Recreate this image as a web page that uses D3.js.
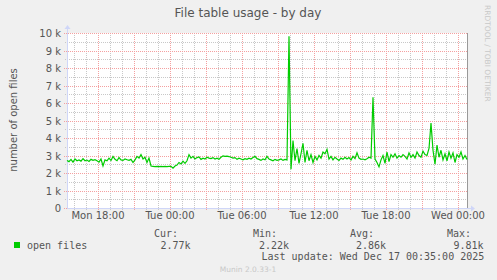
<!DOCTYPE html>
<html>
<head>
<meta charset="utf-8">
<script src="https://cdn.jsdelivr.net/npm/d3@7"></script>
<style>
body { margin: 0; background: #f0f0f0; }
svg { display: block; }
</style>
</head>
<body>
<svg id="chart"></svg>
<script>
// File table usage - by day (munin style)

// samples every 10 minutes, Mon 15:25 -> Wed 00:45
var startTime = Date.UTC(2025, 11, 15, 15, 25);
var stepMinutes = 10;
var openFiles = [
  2.72,2.65,2.78,2.62,2.80,2.70,2.75,2.68,2.82,2.70,
  2.74,2.66,2.78,2.72,2.76,2.70,2.62,2.80,2.40,2.75,
  2.70,2.85,2.72,2.95,2.78,2.70,2.88,2.75,2.72,2.80,
  2.76,2.72,2.78,2.60,2.75,2.95,2.85,3.05,2.80,2.90,
  2.60,2.85,2.40,2.38,2.36,2.38,2.37,2.38,2.36,2.38,
  2.37,2.38,2.38,2.28,2.40,2.45,2.60,2.52,2.68,2.55,
  2.70,3.05,2.85,2.95,2.80,2.88,2.92,2.78,2.85,2.80,
  2.90,2.85,2.82,2.88,2.80,2.85,2.78,2.90,2.98,2.95,
  2.96,2.94,2.90,2.85,2.88,2.78,2.85,2.80,2.75,2.82,
  2.78,2.85,2.80,2.88,2.95,2.82,2.78,2.72,2.80,2.76,
  2.95,2.80,2.75,2.70,2.78,2.72,2.75,2.80,2.72,2.78,
  2.75,9.81,2.22,3.85,2.70,3.40,2.55,3.10,3.70,2.60,
  3.30,2.70,3.05,2.60,2.95,2.75,3.00,2.85,3.20,3.10,
  3.35,2.80,2.95,2.75,2.90,2.80,2.72,2.85,2.78,2.90,
  2.80,2.88,2.75,2.95,2.82,3.15,2.85,2.78,2.80,2.75,
  2.82,2.90,2.85,6.33,2.80,2.60,2.35,2.75,3.00,2.55,
  3.20,2.65,3.05,2.90,3.10,2.85,3.00,2.90,3.05,2.95,
  2.80,3.15,2.90,3.05,2.85,3.20,3.00,2.90,3.25,3.05,
  3.00,3.40,4.85,3.30,2.50,3.60,2.90,3.30,2.75,3.10,
  2.70,3.20,2.85,3.15,2.60,3.05,2.90,3.20,2.80,3.00,
  2.77
];
var yTicks = [0, 1000, 2000, 3000, 4000, 5000, 6000, 7000, 8000, 9000, 10000];
var legendHeads = ["Cur:", "Min:", "Avg:", "Max:"];
var legendValues = ["2.77k", "2.22k", "2.86k", "9.81k"];

var W = 497, H = 280;
var plotL = 67, plotR = 467, plotT = 33, plotB = 208;
var green = "#00cc00";

var svg = d3.select("#chart").attr("width", W).attr("height", H);
svg.append("rect").attr("width", W).attr("height", H).attr("fill", "#f0f0f0");

var data = openFiles.map(function(v, i) {
  return { t: new Date(startTime + i * stepMinutes * 60000), v: v * 1000 };
});

var x = d3.scaleUtc()
  .domain([new Date(startTime), new Date(startTime + 200 * stepMinutes * 60000)])
  .range([plotL, plotR]);
var y = d3.scaleLinear().domain([0, 10000]).range([plotB, plotT]);

// canvas
svg.append("rect").attr("x", plotL).attr("y", plotT)
  .attr("width", plotR - plotL).attr("height", plotB - plotT).attr("fill", "#fff");

// grid
var minorX = x.ticks(d3.utcHour.every(1));
var majorX = x.ticks(d3.utcHour.every(3));
var labelX = x.ticks(d3.utcHour.every(6));
var grid = svg.append("g").attr("shape-rendering", "crispEdges");

grid.selectAll(".vmin").data(minorX).enter().append("line")
  .attr("x1", function(d){ return Math.round(x(d)) + 0.5; })
  .attr("x2", function(d){ return Math.round(x(d)) + 0.5; })
  .attr("y1", plotT).attr("y2", plotB + 2)
  .attr("stroke", "#c8c8c8").attr("stroke-dasharray", "1,1");

grid.selectAll(".hmin").data(d3.range(500, 10000, 1000)).enter().append("line")
  .attr("x1", plotL - 2).attr("x2", plotR)
  .attr("y1", function(d){ return Math.round(y(d)) + 0.5; })
  .attr("y2", function(d){ return Math.round(y(d)) + 0.5; })
  .attr("stroke", "#c8c8c8").attr("stroke-dasharray", "1,1");

grid.selectAll(".vmaj").data(majorX).enter().append("line")
  .attr("x1", function(d){ return Math.round(x(d)) + 0.5; })
  .attr("x2", function(d){ return Math.round(x(d)) + 0.5; })
  .attr("y1", plotT).attr("y2", plotB + 3)
  .attr("stroke", "#f4a0a0").attr("stroke-dasharray", "1,1");

grid.selectAll(".hmaj").data(yTicks).enter().append("line")
  .attr("x1", plotL - 3).attr("x2", plotR)
  .attr("y1", function(d){ return Math.round(y(d)) + 0.5; })
  .attr("y2", function(d){ return Math.round(y(d)) + 0.5; })
  .attr("stroke", "#f4a0a0").attr("stroke-dasharray", "1,1");

// right frame line
svg.append("line").attr("x1", plotR + 0.5).attr("x2", plotR + 0.5)
  .attr("y1", plotT).attr("y2", plotB)
  .attr("stroke", "#999").attr("shape-rendering", "crispEdges");

// axes with arrows
svg.append("line").attr("x1", plotL + 0.5).attr("x2", plotL + 0.5)
  .attr("y1", plotB + 1).attr("y2", plotT - 5)
  .attr("stroke", "#cfd6f8").attr("shape-rendering", "crispEdges");
svg.append("path").attr("d", "M" + (plotL - 2.5) + "," + (plotT - 4) + "L" + (plotL + 0.5) + "," + (plotT - 8) + "L" + (plotL + 3.5) + "," + (plotT - 4) + "Z")
  .attr("fill", "#cfd6f8");
svg.append("line").attr("x1", plotL).attr("x2", plotR + 4)
  .attr("y1", plotB + 0.5).attr("y2", plotB + 0.5)
  .attr("stroke", "#cfd6f8").attr("shape-rendering", "crispEdges");
svg.append("path").attr("d", "M" + (plotR + 4) + "," + (plotB - 2.5) + "L" + (plotR + 8) + "," + (plotB + 0.5) + "L" + (plotR + 4) + "," + (plotB + 3.5) + "Z")
  .attr("fill", "#cfd6f8");

// tick labels
var fmtTime = d3.utcFormat("%a %H:%M");
svg.append("g").selectAll("text").data(labelX).enter().append("text")
  .attr("x", function(d){ return x(d); }).attr("y", 219)
  .attr("text-anchor", "middle")
  .style("font-family", "DejaVu Sans").style("font-size", "10px").attr("fill", "#555")
  .text(function(d){ return fmtTime(d); });

svg.append("g").selectAll("text").data(yTicks).enter().append("text")
  .attr("x", 61).attr("y", function(d){ return y(d) + 4; })
  .attr("text-anchor", "end")
  .style("font-family", "DejaVu Sans").style("font-size", "10px").attr("fill", "#555")
  .text(function(d){ return d === 0 ? "0" : (d / 1000) + " k"; });

// the line
var line = d3.line().x(function(d){ return x(d.t); }).y(function(d){ return y(d.v); });
svg.append("path").datum(data).attr("d", line)
  .attr("fill", "none").attr("stroke", green).attr("stroke-width", 1.2);

// titles
svg.append("text").attr("x", 248).attr("y", 17).attr("text-anchor", "middle")
  .style("font-family", "DejaVu Sans").style("font-size", "12px").attr("fill", "#555")
  .text("File table usage - by day");

svg.append("text").attr("transform", "translate(17,120) rotate(-90)")
  .attr("text-anchor", "middle")
  .style("font-family", "DejaVu Sans").style("font-size", "10px").attr("fill", "#555")
  .text("number of open files");

svg.append("text").attr("transform", "translate(485,5) rotate(90)")
  .style("font-family", "DejaVu Sans").style("font-size", "7.5px").attr("fill", "#c8c8c8")
  .text("RRDTOOL / TOBI OETIKER");

// legend
svg.append("rect").attr("x", 14).attr("y", 242).attr("width", 6).attr("height", 6).attr("fill", green);
var mono = "DejaVu Sans Mono";
svg.append("text").attr("x", 27).attr("y", 248.5)
  .style("font-family", mono).style("font-size", "10px").attr("fill", "#555")
  .text("open files");

var headX = [154, 253, 350, 447];
var valX = [160.5, 259, 356, 453.5];
svg.append("g").selectAll("text").data(legendHeads).enter().append("text")
  .attr("x", function(d, i){ return headX[i]; }).attr("y", 237)
  .style("font-family", mono).style("font-size", "10px").attr("fill", "#555")
  .text(function(d){ return d; });
svg.append("g").selectAll("text").data(legendValues).enter().append("text")
  .attr("x", function(d, i){ return valX[i]; }).attr("y", 248.5)
  .style("font-family", mono).style("font-size", "10px").attr("fill", "#555")
  .text(function(d){ return d; });

svg.append("text").attr("x", 261.5).attr("y", 259.5)
  .style("font-family", mono).style("font-size", "10px").attr("fill", "#555")
  .text("Last update: Wed Dec 17 00:35:00 2025");

svg.append("text").attr("x", 248).attr("y", 271.5).attr("text-anchor", "middle")
  .style("font-family", "DejaVu Sans").style("font-size", "7.5px").attr("fill", "#c8c8c8")
  .text("Munin 2.0.33-1");
</script>
</body>
</html>
